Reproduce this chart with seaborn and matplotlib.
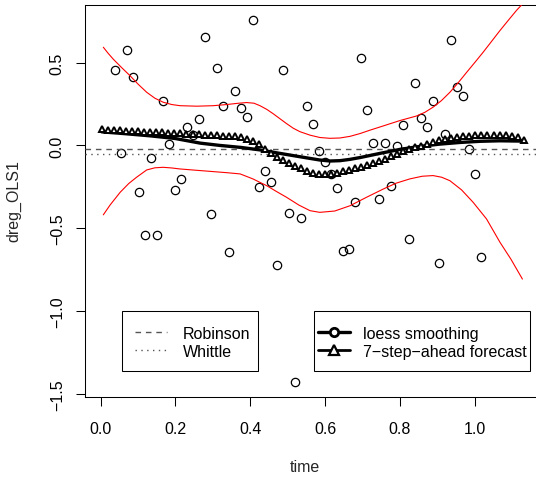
import matplotlib
matplotlib.use("Agg")
import matplotlib.pyplot as plt
import seaborn as sns
from matplotlib.lines import Line2D
from matplotlib.patches import Rectangle

# observed series
time = [0.038, 0.054, 0.070, 0.086, 0.102, 0.118, 0.134, 0.150, 0.167, 0.183,
        0.199, 0.215, 0.231, 0.247, 0.263, 0.279, 0.295, 0.311, 0.327, 0.343,
        0.359, 0.375, 0.391, 0.407, 0.423, 0.439, 0.455, 0.471, 0.487, 0.503,
        0.519, 0.535, 0.551, 0.567, 0.583, 0.599, 0.615, 0.631, 0.648, 0.664,
        0.680, 0.696, 0.712, 0.728, 0.744, 0.760, 0.776, 0.792, 0.808, 0.824,
        0.840, 0.856, 0.872, 0.888, 0.904, 0.920, 0.936, 0.952, 0.968, 0.984,
        1.000, 1.016]
dreg_ols1 = [0.454, -0.044, 0.579, 0.414, -0.283, -0.539, -0.076, -0.539, 0.271, 0.007,
             -0.267, -0.201, 0.112, 0.065, 0.158, 0.654, -0.414, 0.466, 0.240, -0.642,
             0.327, 0.227, 0.174, 0.760, -0.251, -0.156, -0.221, -0.724, 0.456, -0.406,
             -1.431, -0.440, 0.240, 0.130, -0.033, -0.102, -0.172, -0.255, -0.637, -0.627,
             -0.341, 0.529, 0.216, 0.017, -0.325, 0.017, -0.245, -0.003, 0.126, -0.563,
             0.376, 0.166, 0.114, 0.267, -0.712, 0.071, 0.637, 0.355, 0.299, -0.019,
             -0.172, -0.676]

# forecast grid and 7-step-ahead forecast
fc_time = [0.004, 0.020, 0.036, 0.052, 0.068, 0.085, 0.101, 0.117, 0.133, 0.149,
           0.165, 0.181, 0.197, 0.213, 0.229, 0.246, 0.262, 0.278, 0.294, 0.310,
           0.326, 0.342, 0.358, 0.374, 0.390, 0.407, 0.423, 0.439, 0.455, 0.471,
           0.487, 0.503, 0.519, 0.535, 0.551, 0.568, 0.584, 0.600, 0.616, 0.632,
           0.648, 0.664, 0.680, 0.696, 0.712, 0.729, 0.745, 0.761, 0.777, 0.793,
           0.809, 0.825, 0.841, 0.857, 0.873, 0.890, 0.906, 0.922, 0.938, 0.954,
           0.970, 0.986, 1.002, 1.018, 1.034, 1.051, 1.067, 1.083, 1.099, 1.115,
           1.131]
forecast = [0.097, 0.095, 0.093, 0.091, 0.089, 0.088, 0.086, 0.084, 0.083, 0.081,
            0.079, 0.077, 0.076, 0.074, 0.072, 0.070, 0.068, 0.066, 0.064, 0.062,
            0.060, 0.058, 0.055, 0.049, 0.038, 0.024, 0.006, -0.022, -0.046, -0.068,
            -0.088, -0.108, -0.124, -0.139, -0.152, -0.165, -0.174, -0.175, -0.171, -0.164,
            -0.156, -0.146, -0.137, -0.128, -0.117, -0.106, -0.096, -0.082, -0.066, -0.050,
            -0.036, -0.024, -0.012, -0.002, 0.010, 0.022, 0.032, 0.040, 0.047, 0.052,
            0.056, 0.059, 0.062, 0.064, 0.065, 0.066, 0.066, 0.063, 0.057, 0.048,
            0.032]

# loess smoothing
loess_time = [0.003, 0.065, 0.132, 0.199, 0.266, 0.319, 0.375, 0.426, 0.461, 0.506,
              0.551, 0.586, 0.613, 0.640, 0.667, 0.694, 0.747, 0.800, 0.853, 0.907,
              0.961, 1.015, 1.068, 1.130]
loess = [0.082, 0.071, 0.058, 0.042, 0.014, 0.000, -0.012, -0.027, -0.041, -0.058,
         -0.075, -0.088, -0.094, -0.092, -0.084, -0.073, -0.048, -0.024, -0.006, 0.008,
         0.018, 0.025, 0.028, 0.026]

# forecast bands
upper_time = [0.007, 0.020, 0.034, 0.056, 0.078, 0.100, 0.123, 0.145, 0.167, 0.190,
              0.212, 0.257, 0.301, 0.337, 0.365, 0.390, 0.410, 0.426, 0.444, 0.461,
              0.479, 0.497, 0.515, 0.533, 0.560, 0.586, 0.613, 0.640, 0.667, 0.694,
              0.720, 0.756, 0.800, 0.845, 0.867, 0.889, 0.911, 0.934, 0.956, 0.979,
              1.001, 1.023, 1.045, 1.068, 1.090, 1.112, 1.126]
upper = [0.593, 0.556, 0.520, 0.470, 0.422, 0.370, 0.321, 0.285, 0.261, 0.247,
         0.240, 0.237, 0.240, 0.247, 0.254, 0.259, 0.255, 0.240, 0.218, 0.192,
         0.162, 0.132, 0.104, 0.083, 0.062, 0.048, 0.043, 0.045, 0.055, 0.072,
         0.092, 0.118, 0.150, 0.178, 0.200, 0.231, 0.270, 0.321, 0.378, 0.442,
         0.502, 0.563, 0.627, 0.694, 0.755, 0.815, 0.849]
lower_time = [0.007, 0.025, 0.052, 0.075, 0.096, 0.123, 0.145, 0.167, 0.190, 0.212,
              0.256, 0.301, 0.340, 0.373, 0.407, 0.444, 0.470, 0.497, 0.530, 0.560,
              0.586, 0.626, 0.667, 0.711, 0.756, 0.790, 0.827, 0.860, 0.889, 0.912,
              0.934, 0.965, 0.996, 1.032, 1.068, 1.097, 1.128]
lower = [-0.419, -0.360, -0.283, -0.230, -0.192, -0.148, -0.135, -0.132, -0.136, -0.142,
         -0.150, -0.158, -0.165, -0.172, -0.202, -0.243, -0.278, -0.313, -0.360, -0.394,
         -0.404, -0.396, -0.364, -0.313, -0.263, -0.228, -0.202, -0.186, -0.182, -0.192,
         -0.213, -0.268, -0.343, -0.444, -0.585, -0.686, -0.807]

robinson = -0.019
whittle = -0.052

xticks = [0.0, 0.2, 0.4, 0.6, 0.8, 1.0]
xtick_labels = ["0.0", "0.2", "0.4", "0.6", "0.8", "1.0"]
yticks = [-1.5, -1.0, -0.5, 0.0, 0.5]
ytick_labels = ["\u22121.5", "\u22121.0", "\u22120.5", "0.0", "0.5"]

sns.set_theme(style="white")
plt.rcParams["font.family"] = ["Liberation Sans", "DejaVu Sans"]
fs = 11.5

fig = plt.figure(figsize=(5.36, 4.81), dpi=100)
ax = fig.add_axes([85 / 536, 83 / 481, 455 / 536, 392 / 481])

# data points
sns.lineplot(x=time, y=dreg_ols1, ax=ax, estimator=None, sort=False,
             linestyle="none", marker="o", markersize=6.0, color="black",
             markerfacecolor="none", markeredgecolor="black", markeredgewidth=0.9,
             zorder=2)

ax.axhline(robinson, color="#555555", lw=1.0, linestyle=(0, (4, 3.5)), zorder=3)
ax.axhline(whittle, color="#555555", lw=1.0, linestyle=(0, (1, 3.2)), zorder=3)

sns.lineplot(x=loess_time, y=loess, ax=ax, estimator=None, sort=False,
             color="black", lw=2.4, zorder=4)
sns.lineplot(x=fc_time, y=forecast, ax=ax, estimator=None, sort=False,
             linestyle="none", marker="^", markersize=4.5, color="black",
             markerfacecolor="white", markeredgecolor="black", markeredgewidth=1.4,
             zorder=5)
sns.lineplot(x=upper_time, y=upper, ax=ax, estimator=None, sort=False,
             color="red", lw=0.8, zorder=6)
sns.lineplot(x=lower_time, y=lower, ax=ax, estimator=None, sort=False,
             color="red", lw=0.8, zorder=6)

ax.set_xlim(-0.042, 1.175)
ax.set_ylim(-1.519, 0.848)
ax.set_xticks(xticks)
ax.set_xticklabels(xtick_labels)
ax.set_yticks(yticks)
ax.set_yticklabels(ytick_labels, rotation=90, va="center")
ax.tick_params(axis="both", bottom=True, left=True, direction="out",
               length=6.5, width=0.75, colors="black", labelsize=fs)
ax.tick_params(axis="x", pad=10.5)
ax.tick_params(axis="y", pad=8)
ax.set_xlabel("")
ax.set_ylabel("")
ax.grid(False)
for s in ax.spines.values():
    s.set_color("black")
    s.set_linewidth(0.75)

fig.text(305 / 536, 1 - 468 / 481, "time", ha="center", va="center", fontsize=fs)
fig.text(14 / 536, 1 - 201 / 481, "dreg_OLS1", ha="center", va="center",
         rotation=90, fontsize=fs)

# legends
h_rob = Line2D([], [], color="#555555", lw=1.0, linestyle=(0, (4, 3.5)))
h_whi = Line2D([], [], color="#555555", lw=1.0, linestyle=(0, (1, 3.2)))
h_loess = Line2D([], [], color="black", lw=2.4, marker="o", markersize=6,
                 markerfacecolor="white", markeredgecolor="black", markeredgewidth=2)
h_fc = Line2D([], [], color="black", lw=2.0, marker="^", markersize=7,
              markerfacecolor="white", markeredgecolor="black", markeredgewidth=1.6)

leg1 = ax.legend([h_rob, h_whi], ["Robinson", "Whittle"], loc="center left",
                 bbox_to_anchor=(0.1099, 0.1400), frameon=False, borderpad=0,
                 borderaxespad=0, handlelength=2.0, handletextpad=0.98,
                 labelspacing=0.2, fontsize=fs)
ax.add_artist(leg1)
leg2 = ax.legend([h_loess, h_fc], ["loess smoothing", "7\u2212step\u2212ahead forecast"],
                 loc="center left", bbox_to_anchor=(0.5121, 0.1400), frameon=False,
                 borderpad=0, borderaxespad=0, handlelength=2.0, handletextpad=0.83,
                 labelspacing=0.2, fontsize=fs)
for t in leg1.get_texts() + leg2.get_texts():
    t.set_color("black")

ax.add_patch(Rectangle((0.0820, 0.0671), 0.2989, 0.1531, transform=ax.transAxes,
                       fill=False, edgecolor="black", lw=0.75, zorder=7))
ax.add_patch(Rectangle((0.5033, 0.0671), 0.4747, 0.1531, transform=ax.transAxes,
                       fill=False, edgecolor="black", lw=0.75, zorder=7))

fig.savefig("out.png", dpi=100)
